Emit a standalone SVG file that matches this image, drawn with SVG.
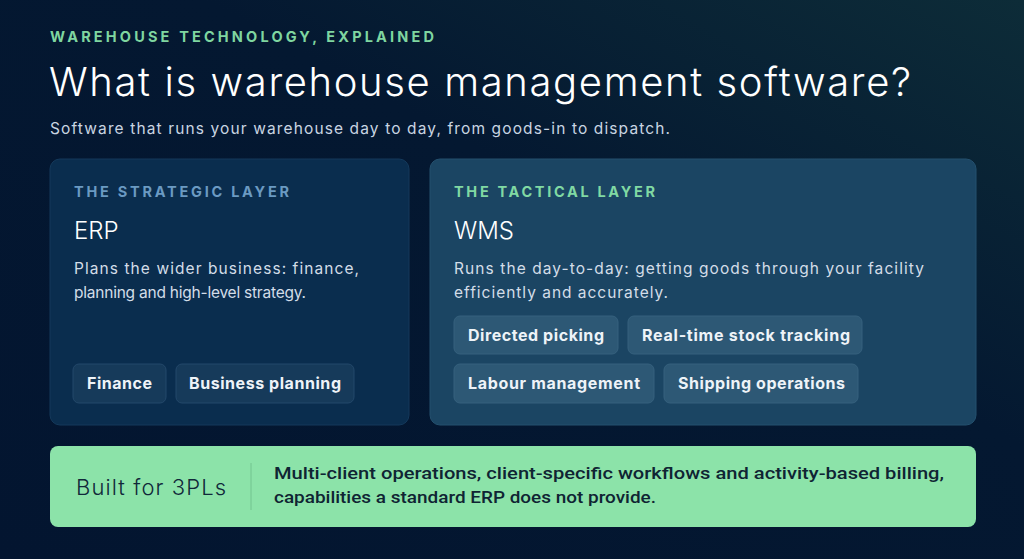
<svg xmlns="http://www.w3.org/2000/svg" width="1024" height="559" viewBox="0 0 1024 559">
<defs>
<linearGradient id="bg" x1="0" y1="1" x2="1" y2="0">
<stop offset="0" stop-color="#031530"/>
<stop offset="0.6" stop-color="#041831"/>
<stop offset="1" stop-color="#0d2c38"/>
</linearGradient>
<style>
.eyebrow{font-family:Inter,"Liberation Sans",sans-serif;font-weight:700;font-size:14.5px;letter-spacing:2px}
.title{font-family:Inter,"Liberation Sans",sans-serif;font-weight:300;font-size:40px;fill:#ffffff}
.sub{font-family:Inter,"Liberation Sans",sans-serif;font-weight:400;font-size:15.5px;fill:#c9d5e2}
.head{font-family:Inter,"Liberation Sans",sans-serif;font-weight:300;font-size:24px;fill:#ffffff}
.desc{font-family:Inter,"Liberation Sans",sans-serif;font-weight:400;font-size:15.5px;fill:#d3dde8}
.chip{font-family:Inter,"Liberation Sans",sans-serif;font-weight:700;font-size:16px;fill:#eef3f8}
.chipL{fill:#163a5a;stroke:#23486a;stroke-width:1}
.chipR{fill:#2d5875;stroke:#36617e;stroke-width:1}
.banner{font-family:Roboto,"Liberation Sans",sans-serif;font-weight:500;font-size:17px;fill:#0f2433}
</style>
</defs>
<rect width="1024" height="559" fill="url(#bg)"/>
<g id="header">
<text x="50" y="42" class="eyebrow" fill="#7fd6a0" textLength="386">WAREHOUSE TECHNOLOGY, EXPLAINED</text>
<text x="49" y="96" class="title" textLength="862">What is warehouse management software?</text>
<text x="50" y="134" class="sub" textLength="620">Software that runs your warehouse day to day, from goods-in to dispatch.</text>
</g>
<g id="erp">
<rect x="50" y="159" width="359" height="266" rx="10" fill="#0a2d4e" stroke="#14395b" stroke-width="1"/>
<text x="74" y="197" class="eyebrow" fill="#6b9ac2" textLength="217">THE STRATEGIC LAYER</text>
<text x="74" y="239" class="head">ERP</text>
<text x="74" y="274" class="desc" textLength="285">Plans the wider business: finance,</text>
<text x="74" y="298" class="desc" textLength="232">planning and high-level strategy.</text>
<rect x="73" y="364" width="93" height="39" rx="6" class="chipL"/>
<text x="87" y="389" class="chip" textLength="65">Finance</text>
<rect x="176" y="364" width="178" height="39" rx="6" class="chipL"/>
<text x="189" y="389" class="chip" textLength="152">Business planning</text>
</g>
<g id="wms">
<rect x="430" y="159" width="546" height="266" rx="10" fill="#1b4563" stroke="#24506e" stroke-width="1"/>
<text x="454" y="197" class="eyebrow" fill="#80d9a3" textLength="203">THE TACTICAL LAYER</text>
<text x="454" y="239" class="head">WMS</text>
<text x="454" y="274" class="desc" textLength="470">Runs the day-to-day: getting goods through your facility</text>
<text x="454" y="298" class="desc" textLength="214">efficiently and accurately.</text>
<rect x="454" y="316" width="164" height="38" rx="6" class="chipR"/>
<text x="468" y="341" class="chip" textLength="136">Directed picking</text>
<rect x="628" y="316" width="234" height="38" rx="6" class="chipR"/>
<text x="642" y="341" class="chip" textLength="208">Real-time stock tracking</text>
<rect x="454" y="364" width="200" height="39" rx="6" class="chipR"/>
<text x="468" y="389" class="chip" textLength="172">Labour management</text>
<rect x="664" y="364" width="194" height="39" rx="6" class="chipR"/>
<text x="678" y="389" class="chip" textLength="167">Shipping operations</text>
</g>
<g id="built-for-3pls">
<rect x="50" y="446" width="926" height="81" rx="8" fill="#8ce3a9"/>
<text x="76" y="495" font-family="Inter,'Liberation Sans',sans-serif" font-weight="300" font-size="22" fill="#10283a" textLength="150">Built for 3PLs</text>
<line x1="251" y1="463" x2="251" y2="510" stroke="#72c48f" stroke-width="1"/>
<text x="274" y="479" class="banner" textLength="670" lengthAdjust="spacingAndGlyphs">Multi-client operations, client-specific workflows and activity-based billing,</text>
<text x="274" y="503" class="banner" textLength="382" lengthAdjust="spacingAndGlyphs">capabilities a standard ERP does not provide.</text>
</g>
</svg>
